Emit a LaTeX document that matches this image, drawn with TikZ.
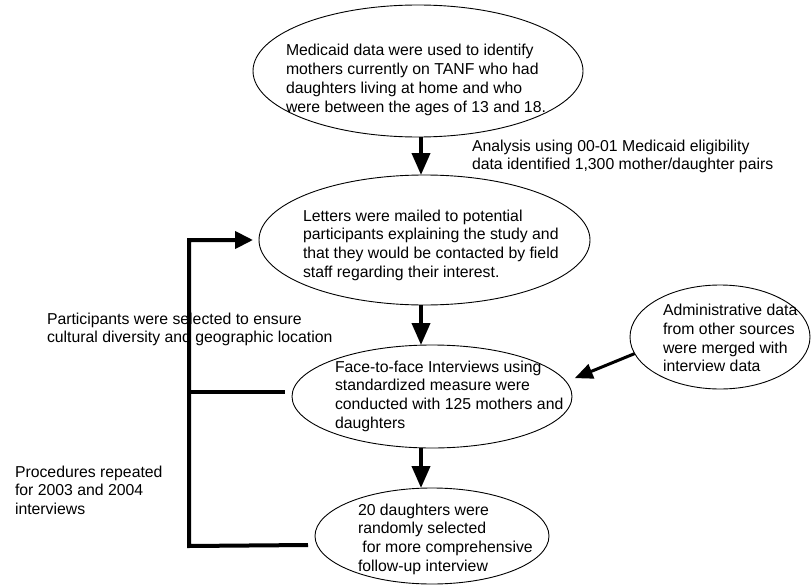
\documentclass[tikz,border=0pt]{standalone}
\usepackage{fontspec}
\setmainfont{Liberation Sans}
\usetikzlibrary{shapes.geometric,arrows.meta}
\newcommand{\txtblock}[1]{\begin{tabular}[t]{@{}l@{}}#1\end{tabular}}
\tikzset{
  bubble/.style={draw, ellipse, line width=0.9pt, inner sep=0pt, outer sep=0pt},
  lbl/.style={anchor=base west, inner sep=0pt, outer sep=0pt, font=\fontsize{15.8}{18.8}\selectfont},
  bigarrow/.style={line width=4pt, -{Triangle[width=18pt,length=22pt]}},
  loopline/.style={line width=4pt},
  looparrow/.style={line width=4pt, -{Triangle[width=17pt,length=18pt]}},
  sidearrow/.style={line width=3pt, -{Triangle[width=15pt,length=18pt]}}
}
\begin{document}
\begin{tikzpicture}[x=1pt,y=-1pt]
\useasboundingbox (0,0) rectangle (811,586);
% ellipses
\node[bubble, minimum width=330pt, minimum height=132pt] (e1) at (418,71) {};
\node[bubble, minimum width=331pt, minimum height=130pt] (e2) at (424.5,240) {};
\node[bubble, minimum width=280pt, minimum height=103pt] (e3) at (432,396.5) {};
\node[bubble, minimum width=234pt, minimum height=96pt] (e4) at (432,536) {};
\node[bubble, minimum width=180pt, minimum height=104pt] (e5) at (720,337) {};
% texts
\node[lbl] (t1) at (286,56) {\txtblock{Medicaid data were used to identify\\mothers currently on TANF who had\\daughters living at home and who\\were between the ages of 13 and 18.}};
\node[lbl] (ta) at (472,151) {\txtblock{Analysis using 00-01 Medicaid eligibility\\data identified 1,300 mother/daughter pairs}};
\node[lbl] (t2) at (303,221) {\txtblock{Letters were mailed to potential\\participants explaining the study and\\that they would be contacted by field\\staff regarding their interest.}};
\node[lbl] (tp) at (47,324) {\txtblock{Participants were selected to ensure\\cultural diversity and geographic location}};
\node[lbl] (t3) at (335,372) {\txtblock{Face-to-face Interviews using\\standardized measure were\\conducted with 125 mothers and\\daughters}};
\node[lbl] (t5) at (663,315.5) {\txtblock{Administrative data\\from other sources\\were merged with\\interview data}};
\node[lbl] (tr) at (15,477) {\txtblock{Procedures repeated\\for 2003 and 2004\\interviews}};
\node[lbl] (t4) at (358,515) {\txtblock{20 daughters were\\randomly selected\\\hspace*{4.4pt}for more comprehensive\\follow-up interview}};
% connectors
\coordinate (axis) at (421,0);
\coordinate (lp) at (189,546);
\draw[bigarrow] (e1.south -| axis) -- (e2.north -| axis);
\draw[bigarrow] (e2.south -| axis) -- (e3.north -| axis);
\draw[bigarrow] (e3.south -| axis) -- (e4.north -| axis);
\coordinate (b3) at ([xshift=-7pt,yshift=4.5pt]e3.west);
\draw[looparrow] ([xshift=-7pt,yshift=-9pt]e4.west) -- (lp) |- ([xshift=-6pt]e2.west);
\draw[loopline] (lp |- b3) -- (b3);
\draw[sidearrow] (e5.191) -- ([xshift=12pt]e3.8);
\end{tikzpicture}
\end{document}
